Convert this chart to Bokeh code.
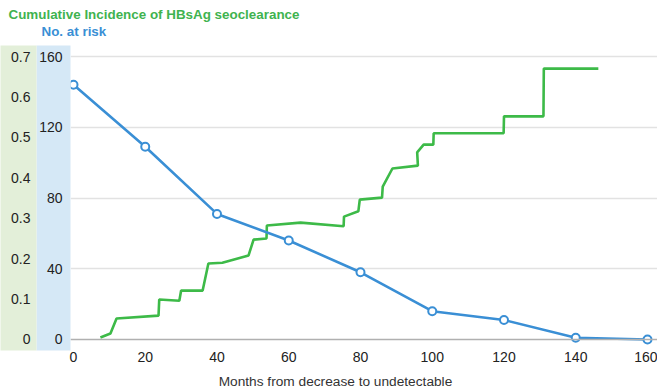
from bokeh.plotting import figure
from bokeh.models import LinearAxis, Range1d, FixedTicker, Title, Span
from bokeh.embed import file_html
from bokeh.resources import INLINE

# ---- data ----
risk_months = [0, 20, 40, 60, 80, 100, 120, 140, 160]
at_risk = [144, 109, 71, 56, 38, 16, 11, 1, 0]

inc_months = [7.5, 10.3, 12, 23.7, 23.9, 29.5, 30, 36, 37.6, 41.5, 48.8, 50.2, 53.8,
              53.9, 63.3, 75.3, 75.4, 79.4, 79.8, 86, 86.2, 88.9, 96, 95.8, 97.6,
              100.3, 100.4, 119.9, 120, 131, 131.1, 146.3]
incidence = [0.005, 0.015, 0.052, 0.059, 0.099, 0.096, 0.121, 0.121, 0.188, 0.190,
             0.208, 0.247, 0.250, 0.282, 0.289, 0.280, 0.304, 0.317, 0.346, 0.351,
             0.378, 0.423, 0.430, 0.463, 0.482, 0.482, 0.510, 0.510, 0.552, 0.552,
             0.670, 0.670]

month_ticks = [0, 20, 40, 60, 80, 100, 120, 140, 160]
risk_ticks = [0, 40, 80, 120, 160]
inc_ticks = [0, 0.1, 0.2, 0.3, 0.4, 0.5, 0.6, 0.7]

x_title = "Months from decrease to undetectable"
inc_title = "Cumulative Incidence of HBsAg seoclearance"
risk_title = "No. at risk"

GREEN = "#3dba48"
GREEN_T = "#3fb34f"
BLUE = "#3a8fd5"
BAND_G = "#e3efd9"
BAND_B = "#d5e8f6"
FONT = "Liberation Sans"

p = figure(width=657, height=392, output_backend="svg", toolbar_location=None,
           title=None,
           x_range=Range1d(-0.836, 162.79), y_range=Range1d(-6.22, 166.22),
           min_border_left=70, min_border_right=0, min_border_top=45,
           min_border_bottom=42)
p.extra_y_ranges = {"inc": Range1d(-6.22 * 0.7 / 160, 166.22 * 0.7 / 160)}
p.outline_line_color = None
p.border_fill_color = "white"

# x axis (label padded on the right so that it sits left of the frame centre)
xa = p.xaxis[0]
xa.ticker = FixedTicker(ticks=month_ticks)
xa.axis_line_color = None
xa.major_tick_line_color = None
xa.minor_tick_line_color = None
xa.major_tick_out = 0
xa.major_tick_in = 0
xa.major_label_standoff = 1
xa.major_label_text_font = FONT
xa.major_label_text_font_size = "14px"
xa.major_label_text_color = "#222222"
xa.axis_label = x_title + "\u00a0" * 15
xa.axis_label_text_font = FONT
xa.axis_label_text_font_size = "13.7px"
xa.axis_label_text_font_style = "normal"
xa.axis_label_text_color = "#333333"
xa.axis_label_standoff = 9

# blue (No. at risk) axis
ya = p.yaxis[0]
ya.ticker = FixedTicker(ticks=risk_ticks)
ya.axis_line_color = None
ya.major_tick_line_color = None
ya.minor_tick_line_color = None
ya.major_tick_out = 0
ya.major_tick_in = 0
ya.major_label_standoff = 8
ya.major_label_text_font = FONT
ya.major_label_text_font_size = "14px"
ya.major_label_text_color = "#222222"
ya.background_fill_color = BAND_B

# green (incidence) axis
ga = LinearAxis(y_range_name="inc", ticker=FixedTicker(ticks=inc_ticks),
                major_label_overrides={0: "0"})
ga.axis_line_color = None
ga.major_tick_line_color = None
ga.minor_tick_line_color = None
ga.major_tick_out = 0
ga.major_tick_in = 0
ga.major_label_standoff = 6
ga.major_label_text_font = FONT
ga.major_label_text_font_size = "14px"
ga.major_label_text_color = "#222222"
ga.background_fill_color = BAND_G
ga.axis_label = "\u00a0"
ga.axis_label_text_font_size = "4px"
ga.axis_label_standoff = 0
p.add_layout(ga, "left")

p.xgrid.visible = False
p.ygrid.ticker = FixedTicker(ticks=[40, 80, 120, 160])
p.ygrid.grid_line_color = "#e2e2e2"
p.ygrid.grid_line_width = 1.5
p.add_layout(Span(location=0, dimension="width", line_color="#b0b0b0", line_width=1.5))

p.line(inc_months, incidence, y_range_name="inc", line_color=GREEN, line_width=2.6)
p.line(risk_months, at_risk, line_color=BLUE, line_width=2.6)
p.scatter(risk_months, at_risk, marker="circle", size=8, fill_color="white",
          line_color=BLUE, line_width=2)

p.add_layout(Title(text=risk_title, align="left", offset=-29, text_color=BLUE,
                   text_font=FONT, text_font_size="13.4px", text_font_style="bold",
                   standoff=14), "above")
p.add_layout(Title(text=inc_title, align="left", offset=-62, text_color=GREEN_T,
                   text_font=FONT, text_font_size="13.4px", text_font_style="bold",
                   vertical_align="middle", standoff=-19), "above")

open("out.html", "w").write(file_html(p, INLINE))
